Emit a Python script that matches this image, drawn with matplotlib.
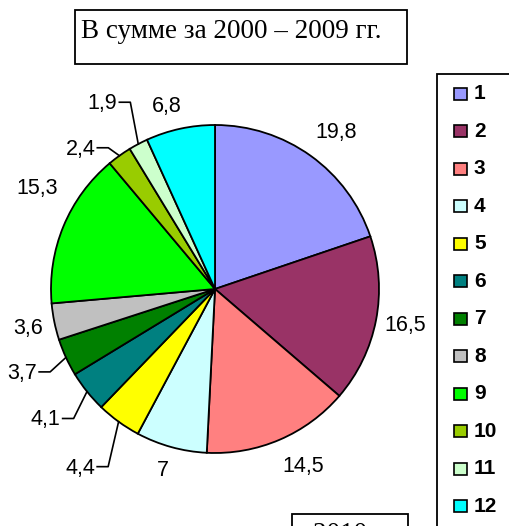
import numpy as np
import matplotlib.pyplot as plt
from matplotlib.patches import Rectangle

W, H = 509, 526

values = [19.8, 16.5, 14.5, 7, 4.4, 4.1, 3.7, 3.6, 15.3, 2.4, 1.9, 6.8]
value_labels = ['19,8', '16,5', '14,5', '7', '4,4', '4,1', '3,7', '3,6',
                '15,3', '2,4', '1,9', '6,8']
categories = [str(i) for i in range(1, 13)]
colors = ['#9999FF', '#993366', '#FF8080', '#CCFFFF', '#FFFF00', '#008080',
          '#008000', '#C0C0C0', '#00FF00', '#99CC00', '#CCFFCC', '#00FFFF']
title = 'В сумме за 2000 – 2009 гг.'
subtitle = '2010 г.'

# label placement: angle shift (deg, clockwise) and distance in radii
label_shift = [1.8, -0.6, -3.4, 0.7, 1.2, 1.3, 1.4, 0, 7.5, -8, -3.2, -2.4]
label_dist = [1.21, 1.18, 1.20, 1.14, 1.36, 1.30, 1.28, 1.16, 1.25, 1.19, 1.33, 1.16]
leader = [False, False, False, False, True, True, True, False, False, True, True, False]

cx, cy, R = 215, H - 289, 164

fig = plt.figure(figsize=(W / 100, H / 100), dpi=100)
ax = fig.add_axes([0, 0, 1, 1])

wedges, _ = ax.pie(values, colors=colors, startangle=90, counterclock=False,
                   center=(cx, cy), radius=R,
                   wedgeprops=dict(edgecolor='black', linewidth=1.3))

for w, lab, sh, d, ld in zip(wedges, value_labels, label_shift, label_dist, leader):
    mid = np.deg2rad((w.theta1 + w.theta2) / 2)
    a = mid - np.deg2rad(sh)
    tx, ty = cx + R * d * np.cos(a), cy + R * d * np.sin(a)
    ax.text(tx, ty - 1.5, lab, ha='center', va='center', fontsize=15.5,
            family='Liberation Sans')
    if ld:
        ex, ey = cx + R * np.cos(mid), cy + R * np.sin(mid)
        ax.plot([tx + 17, tx + 28, ex], [ty, ty, ey], color='black', lw=1.2)

# title box
ax.add_patch(Rectangle((75, H - 64), 332, 54, fill=False, edgecolor='black', lw=1.3))
ax.text(81, H - 38, title, ha='left', va='baseline', fontsize=19.5,
        family='Liberation Serif')

# second title box, cut off at the bottom as in the source
ax.add_patch(Rectangle((292, H - 600), 116, 86, fill=False, edgecolor='black', lw=1.3))
ax.text(313, H - 541, subtitle, ha='left', va='baseline', fontsize=19.5,
        family='Liberation Serif')

# legend
ax.add_patch(Rectangle((437, H - 700), 300, 626, fill=False, edgecolor='black', lw=1.3))
for i, (cat, col) in enumerate(zip(categories, colors)):
    y = H - (93.7 + 37.5 * i)
    ax.add_patch(Rectangle((454, y - 6), 13, 12, facecolor=col, edgecolor='black', lw=1.2))
    ax.text(474, y, cat, ha='left', va='center', fontsize=15, fontweight='bold',
            family='Liberation Sans')

ax.set_xlim(0, W)
ax.set_ylim(0, H)
ax.set_aspect('equal')
ax.axis('off')

fig.savefig('out.png', dpi=100)
